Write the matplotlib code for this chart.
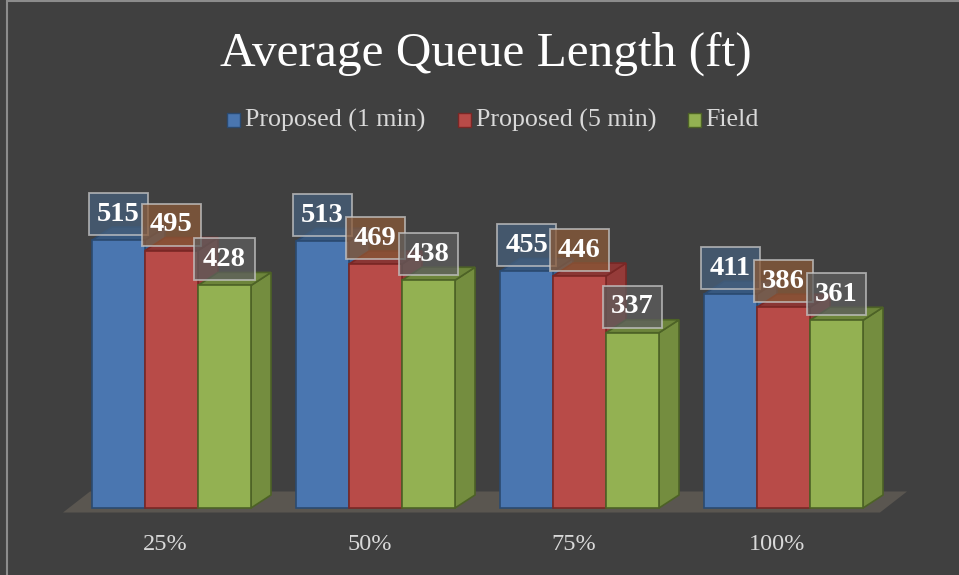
import numpy as np
import matplotlib
matplotlib.use("Agg")
import matplotlib.pyplot as plt
from matplotlib.patches import Polygon, Rectangle

# data
categories = ["25%", "50%", "75%", "100%"]
series_names = ["Proposed (1 min)", "Proposed (5 min)", "Field"]
proposed_1min = [515, 513, 455, 411]
proposed_5min = [495, 469, 446, 386]
field = [428, 438, 337, 361]

face_colors = ["#4a76b0", "#b84b48", "#93b152"]
side_colors = ["#3b5f8e", "#953b39", "#748d3f"]
top_colors = ["#37587f", "#8a3634", "#6d853b"]
edge_colors = ["#2b4a70", "#7a2725", "#4d6226"]
box_colors = ["#46607c", "#8a5a38", "#5e5e5e"]

BG = "#404040"
plt.rcParams["font.family"] = ["Liberation Serif", "DejaVu Serif"]

W, H = 959, 575
fig = plt.figure(figsize=(W / 100, H / 100), dpi=100, facecolor=BG)

# axes placed so the bars land where they sit in the original
px_per_x = 204.0
px_per_y = 0.52
x0_px = 171.5          # pixel centre of the first group
base_px = 508.0        # pixel row of the value 0
left_px, right_px = 60, 915
top_px, bot_px = 170, 516
ax = fig.add_axes([left_px / W, 1 - bot_px / H,
                   (right_px - left_px) / W, (bot_px - top_px) / H])
ax.set_xlim((left_px - x0_px) / px_per_x, (right_px - x0_px) / px_per_x)
ax.set_ylim(-(bot_px - base_px) / px_per_y, (base_px - top_px) / px_per_y)
ax.set_facecolor(BG)
ax.axis("off")

bar_w = 53 / px_per_x
dx = 20 / px_per_x      # depth offsets of the 3d look
dy = 13 / px_per_y

# floor
fl_x0 = (63 - x0_px) / px_per_x
fl_x1 = (880 - x0_px) / px_per_x
fl_dx = 27 / px_per_x
fl_y0 = -(512.5 - base_px) / px_per_y
fl_dy = 21 / px_per_y
ax.add_patch(Polygon([(fl_x0, fl_y0), (fl_x1, fl_y0),
                      (fl_x1 + fl_dx, fl_y0 + fl_dy), (fl_x0 + fl_dx, fl_y0 + fl_dy)],
                     closed=True, facecolor="#5a5650", edgecolor="none", zorder=1))

x = np.arange(len(categories))
all_series = [proposed_1min, proposed_5min, field]

labels = []
for g in range(len(categories)):
    for j, vals in enumerate(all_series):
        xl = x[g] + (j - 1.5) * bar_w
        xr = xl + bar_w
        v = vals[g]
        z = 2 + g * 3 + j * 0.5
        # side face
        ax.add_patch(Polygon([(xr, 0), (xr + dx, dy), (xr + dx, v + dy), (xr, v)],
                             closed=True, facecolor=side_colors[j],
                             edgecolor=edge_colors[j], lw=1.2, zorder=z))
        # top face
        ax.add_patch(Polygon([(xl, v), (xr, v), (xr + dx, v + dy), (xl + dx, v + dy)],
                             closed=True, facecolor=top_colors[j],
                             edgecolor=edge_colors[j], lw=1.2, zorder=z))
        # front face
        ax.bar(xl, v, width=bar_w, align="edge", color=face_colors[j],
               edgecolor=edge_colors[j], lw=1.2, zorder=z + 0.1)
        labels.append((xl + bar_w / 2, v, j))

for xc, v, j in labels:
    ax.text(xc, v + 26 / px_per_y, str(v), ha="center", va="center",
            fontsize=20.5, fontweight="bold", color="white", zorder=50,
            bbox=dict(boxstyle="square,pad=0.3", facecolor=box_colors[j],
                      edgecolor="#c8c8c8", lw=1.3, alpha=0.75))

for g, c in enumerate(categories):
    ax.text(x[g] - 0.03, -(545 - base_px) / px_per_y, c, ha="center", va="center",
            fontsize=17.5, color="#d9d9d9", clip_on=False)

# title
fig.text(485.5 / W, 1 - 54 / H, "Average Queue Length (ft)", ha="center", va="center",
         fontsize=35.5, color="white")

# legend
leg_items = [(227, 245), (458, 476), (688, 705)]
for j, (sq, tx) in enumerate(leg_items):
    fig.patches.append(Rectangle((sq / W, 1 - 127 / H), 13 / W, 14 / H,
                                 transform=fig.transFigure, facecolor=face_colors[j],
                                 edgecolor=edge_colors[j], lw=1))
    fig.text(tx / W, 1 - 120 / H, series_names[j], ha="left", va="center",
             fontsize=18.7, color="#d9d9d9")

# border line at top and left
fig.patches.append(Rectangle((6.5 / W, -0.1), 1.2, 1.1 - 1.5 / H,
                             transform=fig.transFigure, facecolor="none",
                             edgecolor="#8c8c8c", lw=1.5))

fig.savefig("out.png", dpi=100, facecolor=BG)
